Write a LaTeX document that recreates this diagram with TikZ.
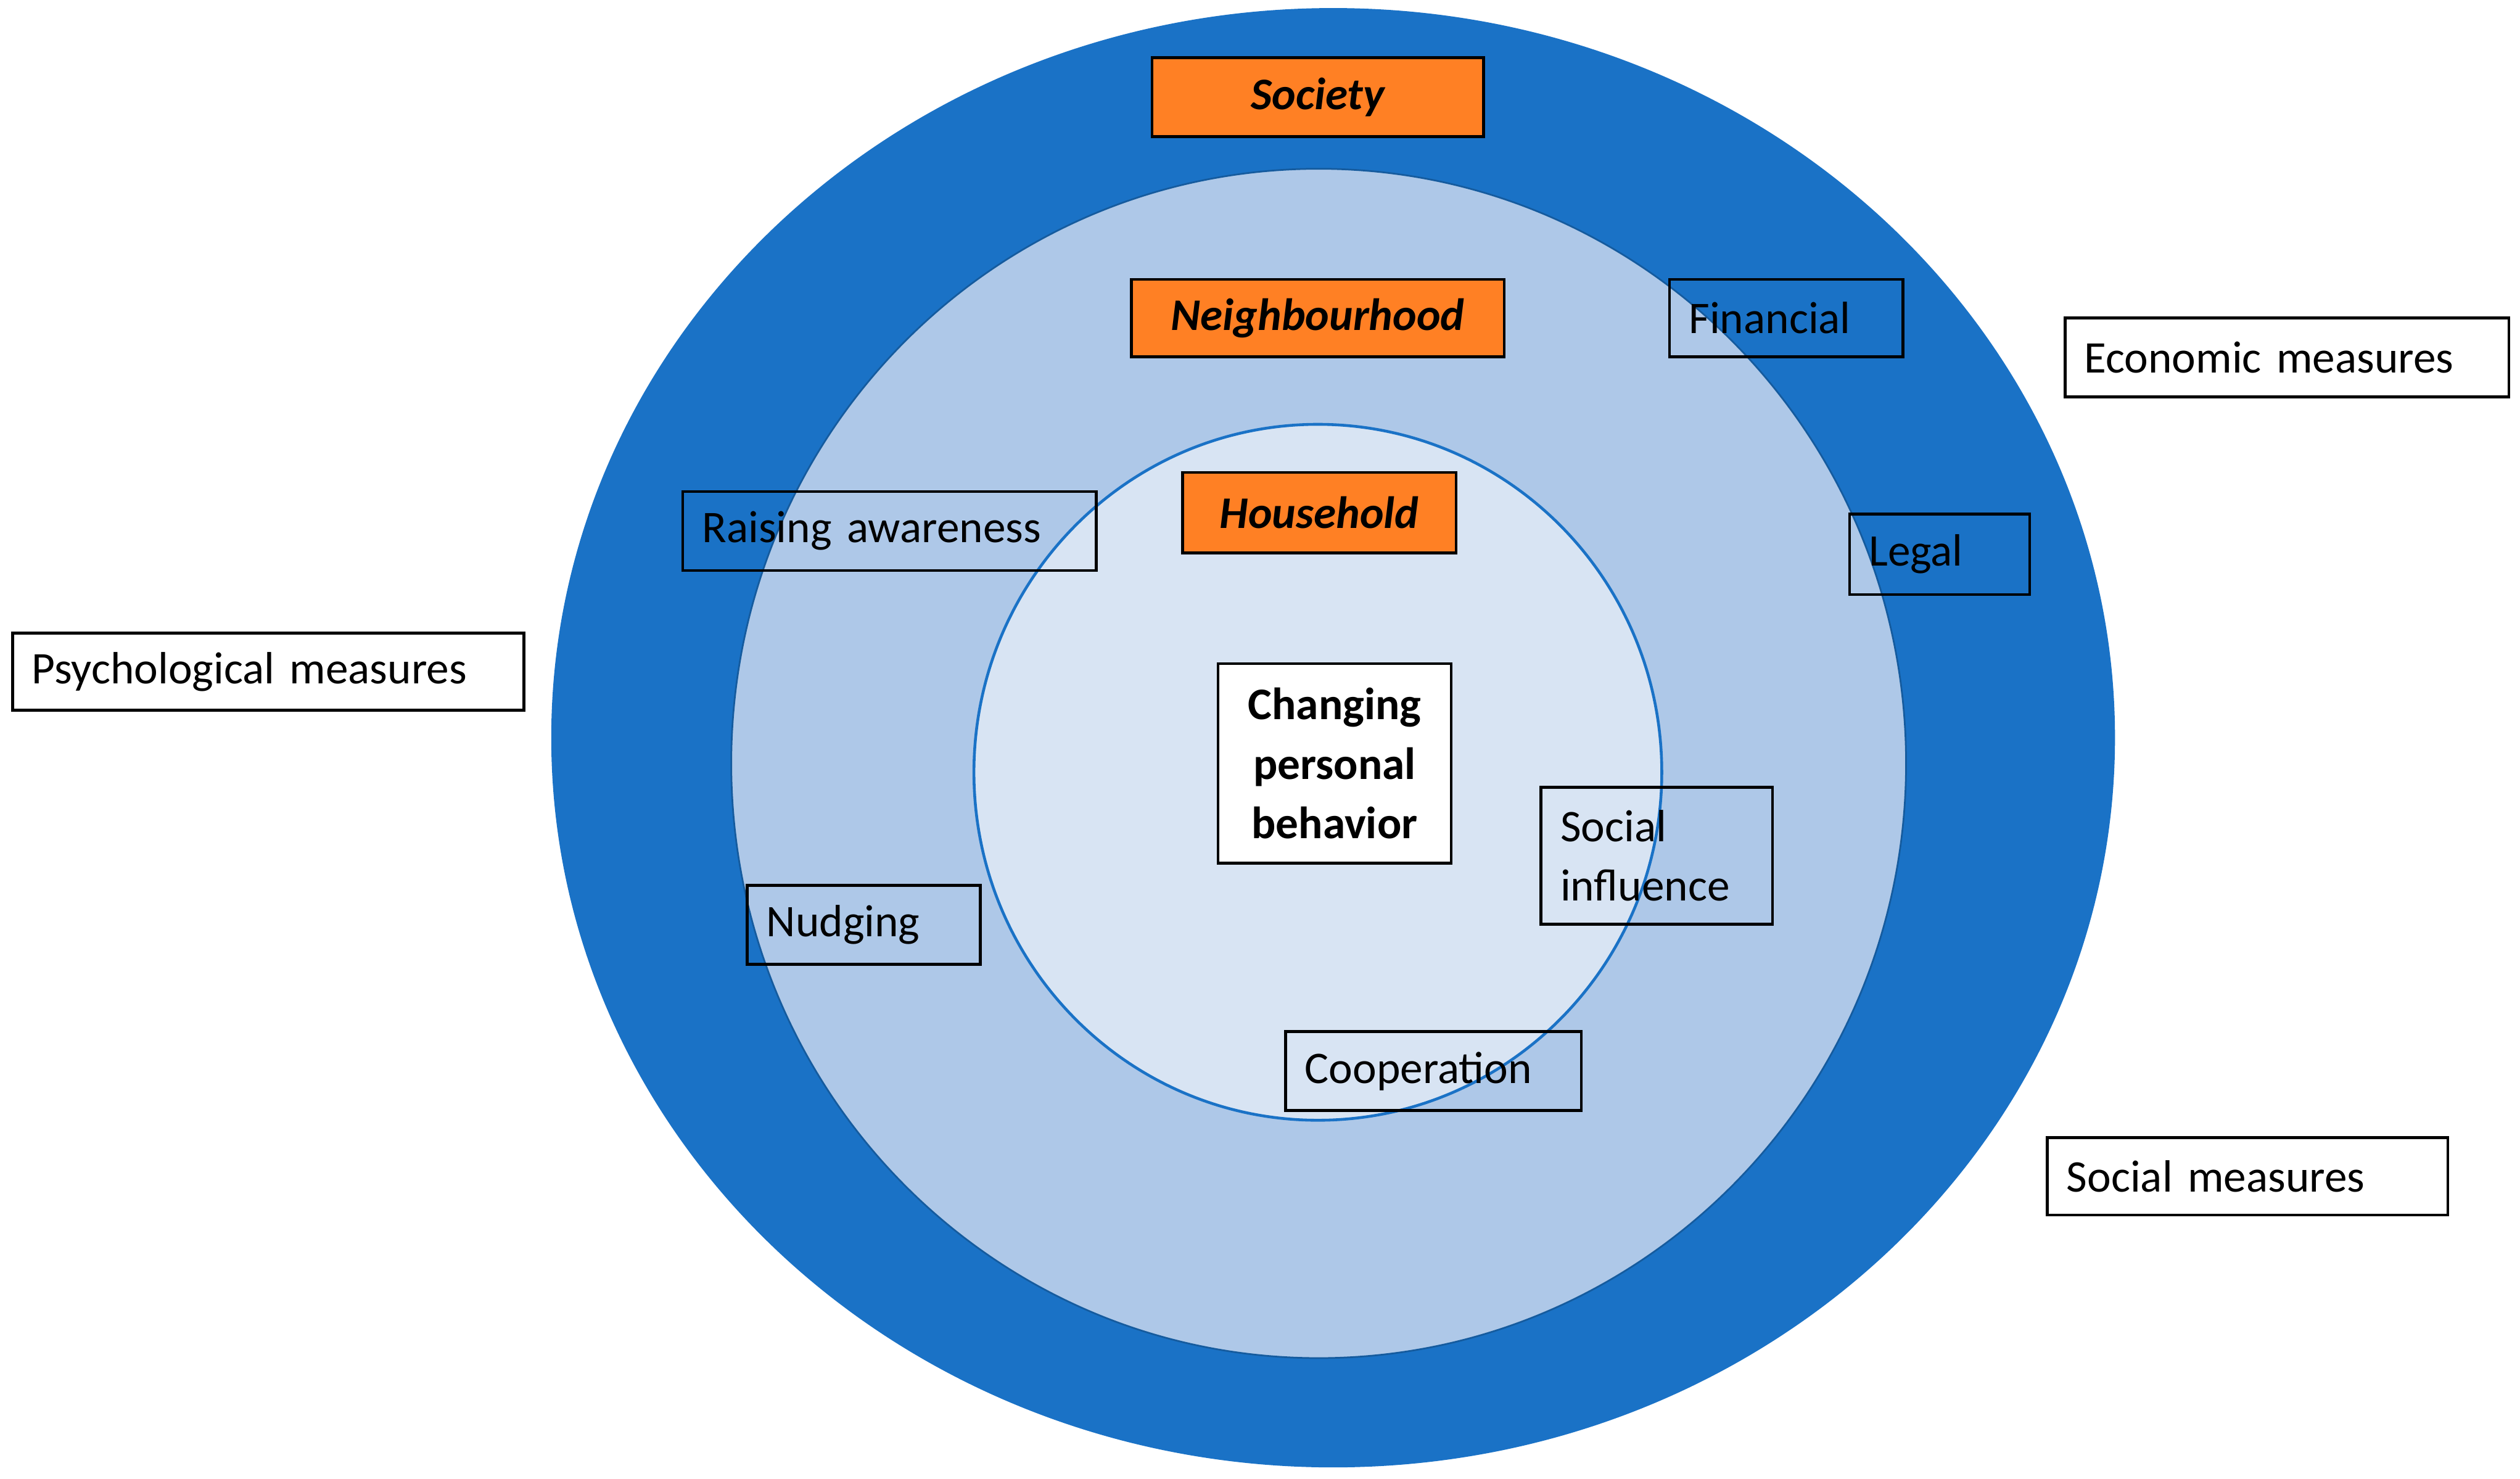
\documentclass[tikz,border=0pt]{standalone}
\usepackage{fontspec}
\setmainfont{Carlito}
\begin{document}
\begin{tikzpicture}[x=0.01cm,y=-0.01cm,
  bx/.style={draw=black,line width=0.5pt,anchor=north west,inner xsep=0.12cm,inner ysep=0pt,font=\fontsize{8}{9.5}\selectfont,align=left},
  org/.style={bx,fill=orange!85!red!90!yellow,align=center,font=\fontsize{8}{9.5}\selectfont\bfseries\itshape}]
\definecolor{outerc}{HTML}{1A72C6}
\definecolor{midc}{HTML}{AEC8E8}
\definecolor{innc}{HTML}{D8E4F3}
\definecolor{orng}{HTML}{FF8024}
\useasboundingbox (0,0) rectangle (1568,920);
\fill[outerc] (829.5,459) ellipse [x radius=486.5, y radius=454];
\draw[fill=midc,draw=outerc!80!black,line width=0.3pt] (820.5,475) ellipse [x radius=365.5, y radius=370];
\draw[fill=innc,draw=outerc,line width=0.5pt] (820,480.5) ellipse [x radius=214, y radius=216.5];
\newcommand{\bxn}[7]{\node[#1,minimum width=#4*0.01cm,minimum height=#5*0.01cm,text width=#6] (#7) at (#2,#3) {};}
\node[org,fill=orng,minimum width=2.06cm,minimum height=0.49cm] (soc) at (716,35) {Society};
\node[org,fill=orng,minimum width=2.32cm,minimum height=0.48cm] (nei) at (703,173) {Neighbourhood};
\node[org,fill=orng,minimum width=1.70cm,minimum height=0.50cm] (hh) at (735,293) {Household};
\node[bx,fill=white,align=center,font=\fontsize{8}{10.5}\selectfont\bfseries,minimum width=1.45cm,minimum height=1.24cm] (chg) at (757,412) {Changing\\personal\\behavior};
\node[bx,minimum width=1.45cm,minimum height=0.48cm,text width=1.21cm] (fin) at (1038,173) {Financial};
\node[bx,minimum width=1.12cm,minimum height=0.50cm,text width=0.88cm] (leg) at (1150,319) {Legal};
\node[bx,fill=white,minimum width=2.76cm,minimum height=0.49cm,text width=2.52cm] (eco) at (1284,197) {Economic measures};
\node[bx,minimum width=2.57cm,minimum height=0.49cm,text width=2.33cm] (raw) at (424,305) {Raising awareness};
\node[bx,fill=white,minimum width=3.18cm,minimum height=0.48cm,text width=2.94cm] (psy) at (7,393) {Psychological measures};
\node[bx,minimum width=1.44cm,minimum height=0.85cm,text width=1.20cm,font=\fontsize{8}{10.5}\selectfont] (si) at (958,489) {Social\\influence};
\node[bx,minimum width=1.45cm,minimum height=0.49cm,text width=1.21cm] (nud) at (464,550) {Nudging};
\node[bx,minimum width=1.84cm,minimum height=0.49cm,text width=1.60cm] (coo) at (799,641) {Cooperation};
\node[bx,fill=white,minimum width=2.49cm,minimum height=0.48cm,text width=2.25cm] (smq) at (1273,707) {Social measures};
\end{tikzpicture}
\end{document}
